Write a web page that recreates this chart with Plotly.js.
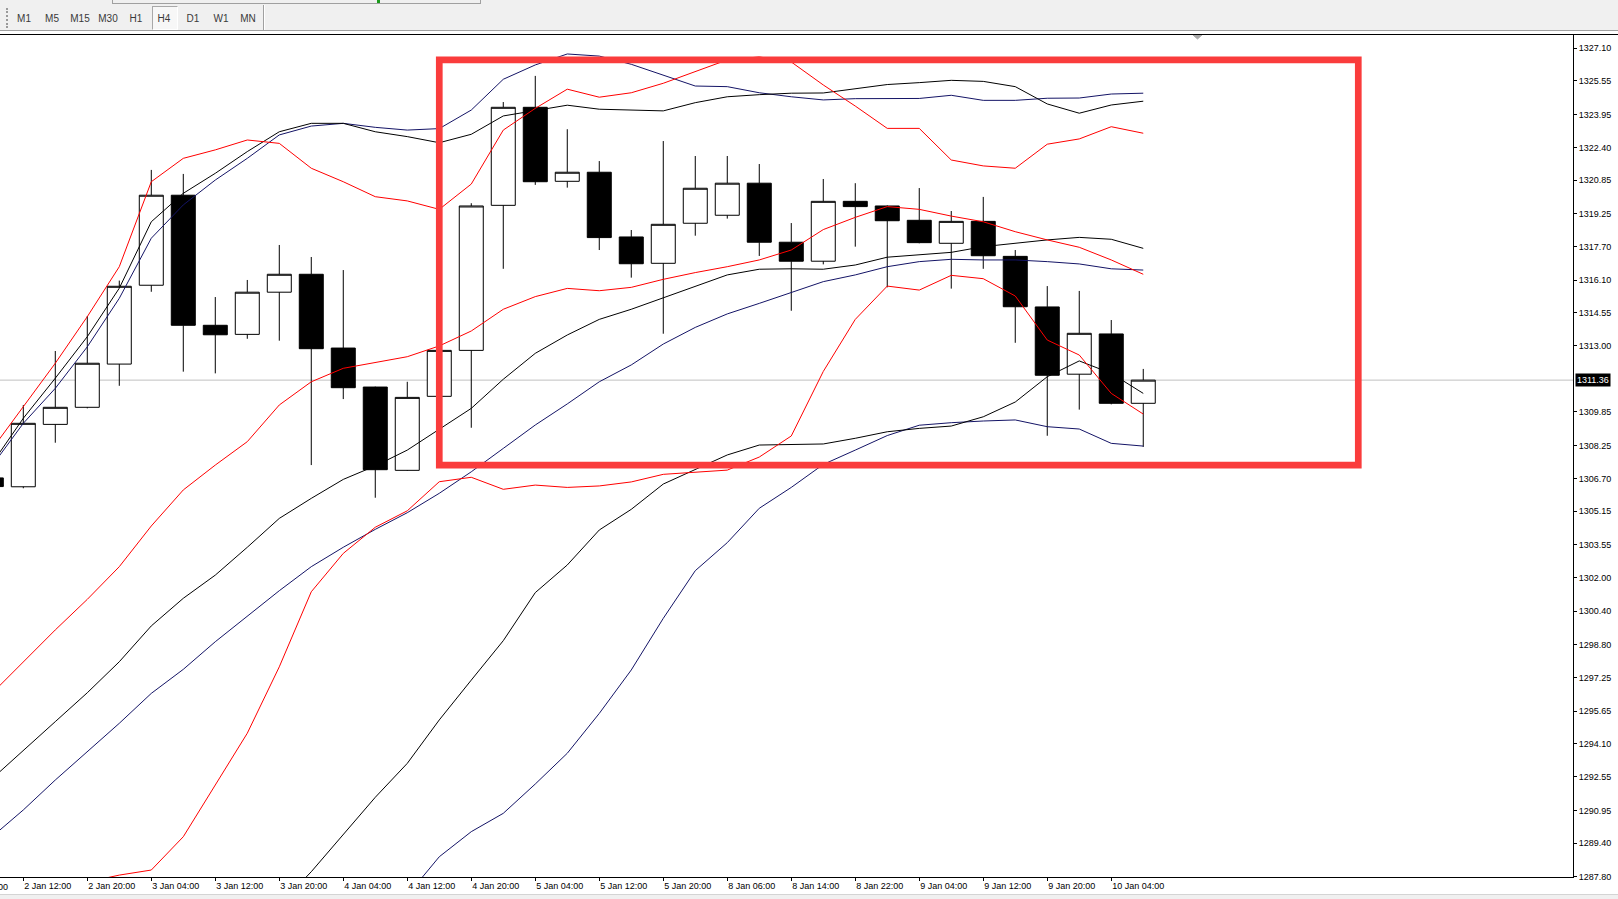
<!DOCTYPE html>
<html>
<head>
<meta charset="utf-8">
<script src="https://cdn.plot.ly/plotly-3.0.1.min.js"></script>
<style>
  html, body { margin:0; padding:0; width:1618px; height:899px; overflow:hidden; background:#ffffff; font-family:"Liberation Sans", Arial, sans-serif; }
  #chart { position:absolute; left:0; top:0; width:1618px; height:899px; }
  #toolbar { position:absolute; left:0; top:0; width:1618px; height:30px; background:#f0f0f0; border-bottom:1px solid #a0a0a0; z-index:5; }
  #toprow { position:absolute; left:112px; top:0; width:367px; height:3px; border-right:1px solid #a0a0a0; border-bottom:1px solid #a0a0a0; border-left:1px solid #a0a0a0; z-index:6; }
  #green { position:absolute; left:377px; top:0; width:3px; height:3px; background:#1a9a1a; z-index:7; }
  #grip { position:absolute; left:6px; top:8px; width:2px; height:20px; border-left:2px dotted #9a9a9a; z-index:6; }
  .tf { position:absolute; top:13px; transform:translateX(-50%); font-size:10px; color:#3a3a3a; z-index:7; white-space:nowrap; }
  #h4box { position:absolute; left:152px; top:6px; width:24px; height:22px; border-left:1px solid #a8a8a8; border-top:1px solid #a8a8a8; border-right:1px solid #ffffff; border-bottom:1px solid #ffffff; background:#f7f7f7; z-index:6; }
  #sep { position:absolute; left:263px; top:5px; width:1px; height:25px; background:#a0a0a0; border-right:1px solid #ffffff; z-index:6; }
  #topline { position:absolute; left:0; top:34px; width:1618px; height:1px; background:#000000; z-index:5; }
  #bottomstrip { position:absolute; left:0; top:894px; width:1618px; height:5px; background:#f0f0f0; border-top:1px solid #d4d4d4; z-index:5; }
</style>
</head>
<body>
<div id="chart"></div>
<div id="toolbar"></div>
<div id="toprow"></div>
<div id="green"></div>
<div id="grip"></div>
<div id="h4box"></div>
<div id="sep"></div>
<div id="topline"></div>
<div id="bottomstrip"></div>
<script>
// ---------- DATA ----------
var times = ["2 Jan 08:00","2 Jan 12:00","2 Jan 16:00","2 Jan 20:00","3 Jan 00:00","3 Jan 04:00","3 Jan 08:00","3 Jan 12:00","3 Jan 16:00","3 Jan 20:00",
             "4 Jan 00:00","4 Jan 04:00","4 Jan 08:00","4 Jan 12:00","4 Jan 16:00","4 Jan 20:00","5 Jan 00:00","5 Jan 04:00","5 Jan 08:00","5 Jan 12:00",
             "5 Jan 16:00","5 Jan 20:00","8 Jan 02:00","8 Jan 06:00","8 Jan 10:00","8 Jan 14:00","8 Jan 18:00","8 Jan 22:00","9 Jan 00:00","9 Jan 04:00",
             "9 Jan 08:00","9 Jan 12:00","9 Jan 16:00","9 Jan 20:00","10 Jan 00:00","10 Jan 04:00","10 Jan 08:00"];
var prevTimeLabel = "2 Jan 04:00";   // label of the bar just left of the visible window

var openP  = [1306.72,1306.30,1309.26,1310.07,1312.12,1315.86,1320.13,1313.96,1313.53,1315.53,
              1316.38,1312.88,1311.03,1307.08,1310.59,1312.77,1319.65,1324.30,1320.79,1321.22,
              1318.15,1316.90,1318.80,1319.18,1320.70,1317.90,1317.00,1319.84,1319.62,1318.94,
              1317.85,1318.89,1317.23,1314.83,1311.64,1313.55,1310.26];
var highP  = [1306.90,1310.18,1312.74,1314.40,1316.08,1321.33,1321.14,1315.30,1316.11,1317.77,
              1317.20,1316.58,1311.05,1311.28,1312.80,1319.75,1324.55,1325.79,1323.26,1321.75,
              1318.48,1322.70,1321.99,1321.99,1321.61,1318.81,1320.90,1320.70,1319.65,1320.47,
              1319.38,1320.05,1317.53,1315.82,1315.59,1314.21,1311.89];
var lowP   = [1306.00,1306.23,1308.39,1310.02,1311.09,1315.55,1311.76,1311.68,1313.32,1313.23,
              1307.33,1310.46,1305.78,1307.05,1310.57,1309.10,1316.64,1320.62,1320.49,1317.53,
              1316.22,1313.56,1318.21,1319.02,1317.25,1314.65,1316.85,1317.69,1315.76,1317.85,
              1315.70,1316.64,1313.13,1308.72,1309.96,1310.21,1308.19];
var closeP = [1306.31,1309.31,1310.07,1312.16,1315.81,1320.13,1313.96,1313.51,1315.53,1316.38,
              1312.85,1311.00,1307.11,1310.54,1312.77,1319.62,1324.30,1320.77,1321.22,1318.12,
              1316.88,1318.75,1320.46,1320.70,1317.90,1317.00,1319.84,1319.59,1318.92,1317.88,
              1318.89,1317.26,1314.84,1311.59,1313.58,1310.26,1311.36];

// Bollinger-style bands (red / black / navy)
var redUpper   = [1308.04,1310.10,1312.16,1314.37,1316.74,1320.77,1321.88,1322.28,1322.75,1322.59,
                  1321.41,1320.77,1320.06,1319.86,1319.46,1320.66,1323.22,1324.25,1325.16,1324.78,
                  1324.99,1325.44,1325.99,1326.55,1326.69,1326.45,1325.36,1324.36,1323.30,1323.30,
                  1321.80,1321.52,1321.41,1322.55,1322.80,1323.38,1323.07];
var redMid     = [1296.47,1298.00,1299.51,1300.96,1302.51,1304.44,1306.15,1307.33,1308.44,1310.18,
                  1311.28,1311.92,1312.19,1312.47,1312.98,1313.69,1314.72,1315.32,1315.71,1315.60,
                  1315.76,1316.14,1316.46,1316.74,1317.06,1317.53,1318.50,1319.08,1319.59,1319.46,
                  1319.14,1318.87,1318.40,1318.01,1317.66,1317.06,1316.38];
var redLower   = [1284.94,1285.99,1286.84,1287.55,1287.88,1288.12,1289.70,1292.15,1294.61,1297.76,
                  1301.32,1303.14,1304.38,1305.16,1306.54,1306.75,1306.18,1306.38,1306.27,1306.34,
                  1306.53,1306.89,1307.00,1307.09,1307.71,1308.71,1311.77,1314.24,1315.82,1315.63,
                  1316.33,1316.17,1315.35,1313.26,1312.55,1310.73,1309.75];
var blackUpper = [1307.35,1309.55,1311.45,1313.42,1315.72,1318.87,1320.22,1321.17,1322.20,1323.14,
                  1323.54,1323.54,1323.14,1322.91,1322.62,1323.02,1323.89,1324.14,1324.40,1324.21,
                  1324.17,1324.13,1324.52,1324.80,1324.90,1324.97,1324.98,1325.17,1325.38,1325.47,
                  1325.58,1325.53,1325.28,1324.46,1324.02,1324.41,1324.59];
var blackMid   = [1292.42,1293.81,1295.16,1296.53,1298.00,1299.70,1301.01,1302.11,1303.43,1304.80,
                  1305.75,1306.65,1307.29,1308.04,1309.03,1310.02,1311.40,1312.63,1313.50,1314.24,
                  1314.72,1315.27,1315.79,1316.35,1316.62,1316.64,1316.62,1316.82,1317.19,1317.29,
                  1317.42,1317.69,1317.85,1318.01,1318.13,1318.04,1317.61];
var blackLower = [1277.49,1278.08,1278.87,1279.64,1280.29,1280.52,1281.80,1283.06,1284.66,1286.46,
                  1288.04,1289.78,1291.57,1293.18,1295.24,1297.13,1299.00,1301.28,1302.59,1304.25,
                  1305.23,1306.43,1307.13,1307.81,1308.28,1308.31,1308.33,1308.60,1308.91,1309.07,
                  1309.18,1309.62,1310.32,1311.52,1312.27,1311.68,1310.73];
var blueUpper  = [1307.25,1309.31,1310.97,1312.94,1315.24,1318.09,1319.67,1320.85,1321.88,1322.99,
                  1323.41,1323.54,1323.35,1323.22,1323.29,1324.17,1325.63,1326.31,1326.83,1326.73,
                  1326.34,1325.83,1325.31,1325.28,1324.99,1324.80,1324.65,1324.71,1324.70,1324.72,
                  1324.87,1324.63,1324.63,1324.73,1324.74,1324.93,1324.97];
var blueMid    = [1289.67,1290.97,1292.39,1293.73,1295.08,1296.50,1297.64,1298.95,1300.17,1301.37,
                  1302.51,1303.43,1304.28,1305.07,1305.99,1307.01,1308.12,1309.23,1310.23,1311.28,
                  1312.08,1313.07,1313.86,1314.50,1315.00,1315.51,1316.03,1316.35,1316.74,1316.98,
                  1317.09,1317.06,1317.06,1316.98,1316.87,1316.64,1316.58];
var blueLower  = [1272.09,1272.62,1273.81,1274.52,1274.92,1274.92,1275.62,1277.05,1278.46,1279.75,
                  1281.60,1283.31,1285.21,1286.92,1288.75,1289.94,1290.81,1292.20,1293.66,1295.55,
                  1297.61,1300.06,1302.32,1303.65,1305.28,1306.27,1307.36,1308.04,1308.73,1309.22,
                  1309.34,1309.42,1309.47,1309.15,1309.04,1308.36,1308.23];

var priceTicks = [1327.10,1325.55,1323.95,1322.40,1320.85,1319.25,1317.70,1316.10,1314.55,1313.00,
                  1309.85,1308.25,1306.70,1305.15,1303.55,1302.00,1300.40,1298.80,1297.25,1295.65,
                  1294.10,1292.55,1290.95,1289.40,1287.80];

var timeframes = ["M1","M5","M15","M30","H1","H4","D1","W1","MN"];
var tfCenters  = [24,52,80,108,136,164,193,221,248];

// highlight box (drawn by hand on the original chart), in bar-index / price units
var boxX = [14.0, 42.72];
var boxY = [1307.33, 1326.55];

// ---------- TOOLBAR ----------
timeframes.forEach(function (t, k) {
  var s = document.createElement('span');
  s.className = 'tf';
  s.textContent = t;
  s.style.left = tfCenters[k] + 'px';
  document.body.appendChild(s);
});

// ---------- CHART ----------
var idx = times.map(function (_, i) { return i; });
var tickIdx = idx.filter(function (i) { return i % 2 === 1; });
var tickTxt = tickIdx.map(function (i) { return times[i]; });
var lastClose = closeP[closeP.length - 1];
var xRange = [0.272, 49.43];

function band(y, color) {
  return { type:'scatter', mode:'lines', x: idx, y: y, line:{color: color, width:1}, hoverinfo:'skip', showlegend:false };
}

var navy = '#141466';
var traces = [
  band(blueLower, navy), band(blueMid, navy), band(blueUpper, navy),
  band(blackLower, '#000000'), band(blackMid, '#000000'), band(blackUpper, '#000000'),
  band(redLower, '#ff0000'), band(redMid, '#ff0000'), band(redUpper, '#ff0000'),
  {
    type:'candlestick', x: idx, open: openP, high: highP, low: lowP, close: closeP,
    increasing:{ line:{color:'#000000', width:1}, fillcolor:'#ffffff' },
    decreasing:{ line:{color:'#000000', width:1}, fillcolor:'#000000' },
    whiskerwidth: 0, hoverinfo:'skip', showlegend:false
  }
];

var axisFont = { family:'"Liberation Sans", Arial, sans-serif', size:9, color:'#000000' };

// paper position of the (off-screen) tick one bar left of the first bar
var prevTickPaper = (-1 - xRange[0]) / (xRange[1] - xRange[0]);

var layout = {
  width:1618, height:899,
  margin:{ l:0, r:45, t:35, b:22, pad:0 },
  paper_bgcolor:'#ffffff', plot_bgcolor:'#ffffff',
  showlegend:false,
  boxgap:0.25, boxgroupgap:0,
  xaxis:{
    range:xRange, showgrid:false, zeroline:false,
    showline:true, linecolor:'#000000', linewidth:1,
    ticks:'outside', ticklen:3, tickcolor:'#000000', tickwidth:1,
    tickmode:'array', tickvals: tickIdx, ticktext: tickTxt,
    ticklabelposition:'outside right', tickfont: axisFont,
    rangeslider:{ visible:false }, fixedrange:true, automargin:false
  },
  yaxis:{
    side:'right', range:[1287.79, 1327.73], showgrid:false, zeroline:false,
    showline:true, linecolor:'#000000', linewidth:1,
    ticks:'outside', ticklen:3, tickcolor:'#000000', tickwidth:1,
    tickmode:'array', tickvals: priceTicks, ticktext: priceTicks.map(function (v) { return v.toFixed(2); }),
    tickfont: axisFont, fixedrange:true, automargin:false
  },
  shapes:[
    { type:'line', xref:'paper', yref:'y', x0:0, x1:1, y0:lastClose, y1:lastClose,
      line:{ color:'#c0c0c0', width:1 }, layer:'below' },
    { type:'rect', xref:'x', yref:'y', x0:boxX[0], x1:boxX[1], y0:boxY[0], y1:boxY[1],
      line:{ color:'#fa3c3c', width:6.7 }, fillcolor:'rgba(0,0,0,0)', layer:'above' },
    { type:'path', xref:'paper', yref:'paper', path:'M 0.7584 1 L 0.7641 1 L 0.7613 0.9953 Z',
      fillcolor:'#a8a8a8', line:{ color:'#a8a8a8', width:1 } }
  ],
  annotations:[
    { xref:'paper', yref:'y', x:1, y:lastClose, xanchor:'left', yanchor:'middle', xshift:2,
      text: lastClose.toFixed(2), showarrow:false, bgcolor:'#000000', borderpad:1,
      font:{ family:'"Liberation Sans", Arial, sans-serif', size:9, color:'#ffffff' } },
    { xref:'paper', yref:'paper', x:prevTickPaper, y:0, xanchor:'left', yanchor:'top', yshift:-3,
      text: prevTimeLabel, showarrow:false, font: axisFont }
  ]
};

Plotly.newPlot('chart', traces, layout, { displayModeBar:false, staticPlot:true });
</script>
</body>
</html>
